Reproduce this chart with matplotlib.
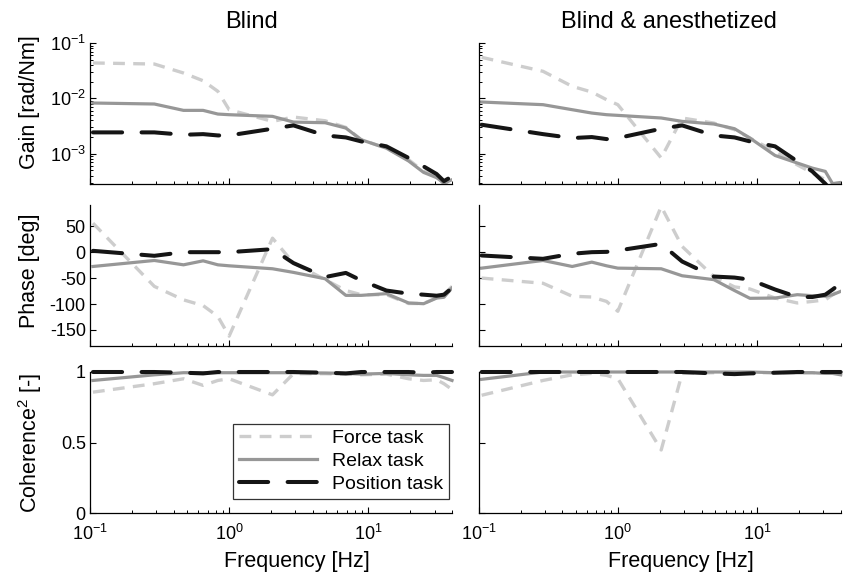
import matplotlib
matplotlib.use("Agg")
import matplotlib.pyplot as plt
from matplotlib.ticker import LogLocator, NullFormatter, FixedLocator

plt.rcParams['font.family'] = ['Liberation Sans', 'DejaVu Sans']
plt.rcParams['mathtext.fontset'] = 'custom'
plt.rcParams['mathtext.rm'] = 'Liberation Sans'
plt.rcParams['mathtext.it'] = 'Liberation Sans:italic'
plt.rcParams['mathtext.bf'] = 'Liberation Sans:bold'
plt.rcParams['axes.unicode_minus'] = False
plt.rcParams['lines.scale_dashes'] = False

# ---------------- data ----------------
freq = [0.105, 0.29, 0.47, 0.65, 0.83, 1.0, 2.05, 2.9, 4.9, 6.9, 8.9, 13.5, 19.5, 25, 31, 35, 40]

# Blind
gain_force_blind = [0.0436, 0.0417, 0.0287, 0.0208, 0.0134, 0.00624, 0.00384, 0.00460, 0.00394, 0.00299,
                    0.00179, 0.00126, 0.00078, 0.00048, 0.00042, 0.000275, 0.000363]
gain_relax_blind = [0.00824, 0.00791, 0.00607, 0.00607, 0.00521, 0.00507, 0.00473, 0.00373, 0.00363, 0.00291,
                    0.00179, 0.00126, 0.00074, 0.00046, 0.00037, 0.000295, 0.000339]
gain_pos_blind = [0.00243, 0.00243, 0.00220, 0.00226, 0.00214, 0.00214, 0.00283, 0.00325, 0.00214, 0.00197,
                  0.00167, 0.00136, 0.00084, 0.00059, 0.00043, 0.00032, 0.00039]
phase_force_blind = [56, -66, -92, -103, -124, -162, 27, -21, -53, -74, -82, -82, -99, -99, -88, -82, -66]
phase_relax_blind = [-27.6, -16, -24.4, -16.7, -24.4, -26.3, -32, -39, -51.3, -83.3, -83.3, -80, -98, -99.4,
                     -88.5, -87, -69]
phase_pos_blind = [2.6, -7, 0, 0, 0, 0, 5.8, -21, -48, -40, -54.5, -74, -80, -82, -84, -82, -69]
coh_force_blind = [0.857, 0.917, 0.952, 0.905, 0.94, 0.952, 0.838, 0.988, 0.988, 0.985, 0.98, 0.985, 0.952,
                   0.94, 0.945, 0.917, 0.876]
coh_relax_blind = [0.94, 0.98, 0.995, 0.995, 0.995, 0.995, 0.995, 0.995, 0.993, 0.99, 0.985, 0.99, 0.98,
                   0.976, 0.976, 0.96, 0.94]
coh_pos_blind = [1.0, 1.0, 0.995, 0.99, 1.0, 1.0, 1.0, 1.0, 0.995, 0.99, 1.0, 1.0, 1.0, 0.995, 1.0, 1.0, 1.0]

# Blind & anesthetized
gain_force_anest = [0.0551, 0.0308, 0.0165, 0.0130, 0.00946, 0.00769, 0.00084, 0.00442, 0.00358, 0.00272,
                    0.00192, 0.00110, 0.00063, 0.00045, 0.00034, 0.00029, 0.000295]
gain_relax_anest = [0.00859, 0.00769, 0.00624, 0.00543, 0.00507, 0.00493, 0.00442, 0.00384, 0.00344, 0.00283,
                    0.00192, 0.00093, 0.00068, 0.00055, 0.00048, 0.000287, 0.000303]
gain_pos_anest = [0.00334, 0.00226, 0.00192, 0.00200, 0.00184, 0.00192, 0.00283, 0.00325, 0.00214, 0.00197,
                  0.00167, 0.00136, 0.00073, 0.00048, 0.000287, 0.0002, 0.0002]
phase_force_anest = [-50, -60, -85, -86.5, -95, -114, 88, 11, -47, -67, -71, -88.5, -98, -95, -92, -82, -72]
phase_relax_anest = [-30.8, -16, -27.6, -19.2, -26.3, -30.8, -32, -45.5, -53, -74, -89, -88.5, -82, -84, -85,
                     -82, -75.6]
phase_pos_anest = [-6.4, -12.8, -3, 0, 0.6, 3.2, 16, -18, -47, -49, -53, -72, -86.5, -86.5, -82, -72, -60]
coh_force_anest = [0.835, 0.94, 0.98, 0.99, 0.976, 0.953, 0.447, 0.99, 0.995, 0.995, 0.995, 0.995, 0.995,
                   0.995, 0.995, 0.995, 0.99]
coh_relax_anest = [0.948, 1.0, 1.0, 1.0, 1.0, 1.0, 1.0, 1.0, 1.0, 1.0, 1.0, 0.995, 0.995, 0.995, 0.99, 0.99, 0.98]
coh_pos_anest = [1.0, 1.0, 1.0, 1.0, 1.0, 1.0, 1.0, 1.0, 0.99, 0.985, 0.99, 0.995, 1.0, 1.0, 1.0, 1.0, 1.0]

labels = ["Force task", "Relax task", "Position task"]
titles = ["Blind", "Blind & anesthetized"]

# ---------------- styles ----------------
sty_force = dict(color='#cdcdcd', lw=2.4, dashes=(8.5, 6.0), dash_capstyle='butt')
sty_relax = dict(color='#979797', lw=2.3, ls='-')
sty_pos = dict(color='#151515', lw=2.9, dashes=(21, 14), dash_capstyle='round')

W, H = 843, 575
fig = plt.figure(figsize=(W / 100, H / 100), dpi=100)

col_x = [90, 478.7]
col_w = 362
rows = [(43, 183.5), (205, 346), (372, 513)]


def make_ax(col, row):
    top, bot = rows[row]
    return fig.add_axes([col_x[col] / W, 1 - bot / H, col_w / W, (bot - top) / H])


data = [
    (gain_force_blind, gain_relax_blind, gain_pos_blind,
     phase_force_blind, phase_relax_blind, phase_pos_blind,
     coh_force_blind, coh_relax_blind, coh_pos_blind),
    (gain_force_anest, gain_relax_anest, gain_pos_anest,
     phase_force_anest, phase_relax_anest, phase_pos_anest,
     coh_force_anest, coh_relax_anest, coh_pos_anest),
]

TICK_FS = 13
LABEL_FS = 15.5
for col in range(2):
    d = data[col]
    for row in range(3):
        ax = make_ax(col, row)
        f_, r_, p_ = d[3 * row], d[3 * row + 1], d[3 * row + 2]
        clip = row != 2
        l1, = ax.plot(freq, f_, clip_on=clip, **sty_force)
        l2, = ax.plot(freq, r_, clip_on=clip, **sty_relax)
        l3, = ax.plot(freq, p_, clip_on=clip, **sty_pos)
        ax.set_xscale('log')
        ax.set_xlim(0.1, 40)
        for s in ['top', 'right']:
            ax.spines[s].set_visible(False)
        for s in ['left', 'bottom']:
            ax.spines[s].set_linewidth(0.9)
        ax.tick_params(which='major', direction='in', length=4, width=0.8, labelsize=TICK_FS, pad=3)
        ax.tick_params(which='minor', direction='in', length=2.5, width=0.7)
        ax.tick_params(axis='x', which='major', pad=8)
        ax.xaxis.set_major_locator(LogLocator(base=10, numticks=10))
        ax.xaxis.set_minor_locator(LogLocator(base=10, subs=range(2, 10), numticks=10))
        ax.xaxis.set_minor_formatter(NullFormatter())
        if row == 0:
            ax.set_yscale('log')
            ax.set_ylim(2.9e-4, 0.1)
            ax.yaxis.set_major_locator(FixedLocator([1e-3, 1e-2, 1e-1]))
            ax.yaxis.set_minor_locator(LogLocator(base=10, subs=range(2, 10), numticks=10))
            ax.yaxis.set_minor_formatter(NullFormatter())
        elif row == 1:
            ax.set_ylim(-181, 91)
            ax.set_yticks([-150, -100, -50, 0, 50])
        else:
            ax.set_ylim(0, 1.0)
            ax.set_yticks([0, 0.5, 1])
            ax.set_yticklabels(['0', '0.5', '1'])
        if row != 2:
            ax.tick_params(axis='x', labelbottom=False)
        if col == 1:
            ax.tick_params(axis='y', labelleft=False)
        if row == 2 and col == 0:
            leg = ax.legend([l1, l2, l3], labels, loc='lower right',
                            bbox_to_anchor=(0.992, 0.1), fontsize=14,
                            frameon=True, fancybox=False, handlelength=4.0,
                            handletextpad=0.8, labelspacing=0.28, borderpad=0.3,
                            borderaxespad=0.0)
            leg.get_frame().set_edgecolor('black')
            leg.get_frame().set_linewidth(0.9)

# titles
fig.text(252 / W, 1 - 22 / H, titles[0], ha='center', va='center', fontsize=17)
fig.text(669 / W, 1 - 22 / H, titles[1], ha='center', va='center', fontsize=17)

# x labels
fig.text(297 / W, 1 - 561 / H, "Frequency [Hz]", ha='center', va='center', fontsize=LABEL_FS)
fig.text(681 / W, 1 - 561 / H, "Frequency [Hz]", ha='center', va='center', fontsize=LABEL_FS)

# y labels
fig.text(29 / W, 1 - 102 / H, "Gain [rad/Nm]", rotation=90, ha='center', va='center', fontsize=LABEL_FS)
fig.text(30 / W, 1 - 271 / H, "Phase [deg]", rotation=90, ha='center', va='center', fontsize=LABEL_FS)
fig.text(30 / W, 1 - 443 / H, "Coherence$^2$ [-]", rotation=90, ha='center', va='center', fontsize=LABEL_FS)

fig.savefig("out.png", dpi=100)
